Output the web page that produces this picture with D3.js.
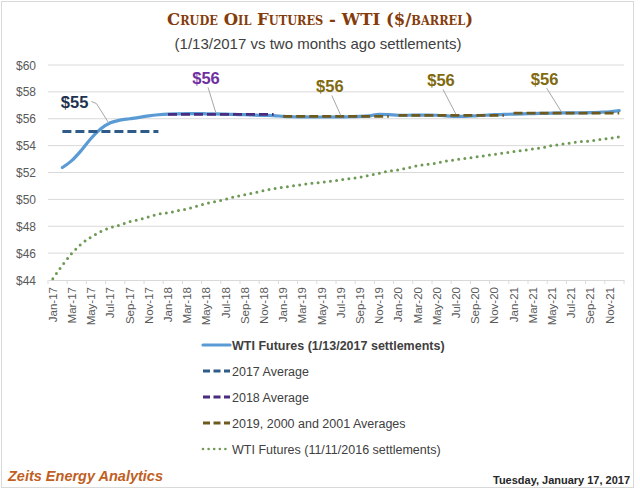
<!DOCTYPE html>
<html><head><meta charset="utf-8">
<script src="https://cdn.jsdelivr.net/npm/d3@7"></script>
<style>
html,body{margin:0;padding:0;background:#fff;}
svg{display:block;font-family:"Liberation Sans",Arial,sans-serif;}
</style></head>
<body><svg id="c" width="640" height="490"></svg>
<script>
// ---------- DATA ----------
const monthNames = ["Jan","Feb","Mar","Apr","May","Jun","Jul","Aug","Sep","Oct","Nov","Dec"];
const years = ["17","18","19","20","21"];
const months = [];
years.forEach(y => monthNames.forEach(m => months.push(m + "-" + y)));

// WTI futures, 1/13/2017 settlements (front month Feb-17)
const wtiJan = [null,52.37,52.9,53.67,54.55,55.25,55.7,55.9,56.0,56.1,56.22,56.3,
  56.35,56.37,56.38,56.38,56.37,56.36,56.34,56.32,56.3,56.27,56.25,56.23,
  56.18,56.15,56.14,56.13,56.13,56.13,56.14,56.15,56.17,56.22,56.32,56.3,
  56.26,56.26,56.27,56.27,56.26,56.22,56.17,56.18,56.22,56.26,56.3,56.32,
  56.35,56.37,56.38,56.4,56.42,56.43,56.43,56.44,56.45,56.48,56.52,56.6];

// WTI futures, 11/11/2016 settlements
const wtiNov = [44.1,45.1,46.0,46.7,47.2,47.6,47.9,48.1,48.35,48.5,48.7,48.9,
  49.0,49.15,49.3,49.5,49.7,49.85,50.0,50.2,50.35,50.5,50.65,50.8,
  50.9,51.0,51.1,51.2,51.27,51.35,51.45,51.55,51.65,51.8,51.95,52.1,
  52.2,52.35,52.5,52.6,52.7,52.85,52.95,53.05,53.15,53.25,53.35,53.45,
  53.55,53.65,53.75,53.85,54.0,54.1,54.2,54.3,54.35,54.45,54.55,54.65];

// Yearly averages of the 1/13/2017 curve
const avgYears  = ["17","18","19","20","21"];
const avgValues = [55.05,56.33,56.17,56.25,56.42];
const avgStart  = ["Feb-17","Jan-18","Jan-19","Jan-20","Jan-21"];
const avgEnd    = ["Dec-17","Dec-18","Dec-19","Dec-20","Dec-21"];
const avgLabels = ["$55","$56","$56","$56","$56"];
const avgLabelMonth = ["Jul-17","Jun-18","Jul-19","Jul-20","Jun-21"];

const yTicks = [44,46,48,50,52,54,56,58,60];
const legendLabels = ["WTI Futures (1/13/2017 settlements)","2017 Average","2018 Average",
  "2019, 2000 and 2001 Averages","WTI Futures (11/11/2016 settlements)"];

// ---------- LAYOUT ----------
const svg = d3.select("#c");
const L = 48, R = 624, T = 65, B = 280;
const x = d3.scaleBand().domain(months).range([L, R]);
const y = d3.scaleLinear().domain([44, 60]).range([B, T]);
const cx = m => x(m) + x.bandwidth() / 2;

const C = {
  jan: "#5b9bd5", a17: "#2e5b88", a18: "#4a2c7e", aOl: "#6f5a1e",
  nov: "#6f9a55", grid: "#d9d9d9", text: "#595959"
};
const avgColors = [C.a17, C.a18, C.aOl, C.aOl, C.aOl];
const labelColors = ["#1f3350", "#7030a0", "#7f6a10", "#7f6a10", "#7f6a10"];

// border
svg.append("rect").attr("x",1.5).attr("y",1.5).attr("width",632).attr("height",486)
  .attr("fill","none").attr("stroke","#d9d9d9");

// title
svg.append("text").attr("x",320).attr("y",25).attr("text-anchor","middle")
  .attr("fill","#843c0c").attr("font-weight","bold").attr("font-size",17.5)
  .style("font-variant","small-caps").style("font-family","'DejaVu Serif','Liberation Serif',serif")
  .attr("textLength",306).attr("lengthAdjust","spacingAndGlyphs")
  .text("Crude Oil Futures - WTI ($/barrel)");
svg.append("text").attr("x",318).attr("y",49).attr("text-anchor","middle")
  .attr("fill","#404040").attr("font-size",15)
  .text("(1/13/2017 vs two months ago settlements)");

// grid
svg.append("g").selectAll("line").data(yTicks.slice(1)).join("line")
  .attr("x1",L).attr("x2",R).attr("y1",d=>y(d)).attr("y2",d=>y(d))
  .attr("stroke",C.grid).attr("stroke-width",1);

// y axis labels
svg.append("g").selectAll("text").data(yTicks).join("text")
  .attr("x",36).attr("y",d=>y(d)+4.5).attr("text-anchor","end")
  .attr("fill",C.text).attr("font-size",12)
  .text(d=>"$"+d);

// x axis
const xAxis = d3.axisBottom(x)
  .tickValues(months.filter((m,i)=>i%2===0))
  .tickSize(0);
const gx = svg.append("g").attr("transform",`translate(0,${B})`).call(xAxis);
gx.select(".domain").attr("stroke",C.grid);
gx.selectAll(".tick text")
  .attr("transform","rotate(-90)")
  .attr("x",-7).attr("y",0).attr("dy","0.35em")
  .attr("text-anchor","end").attr("fill",C.text).attr("font-size",11.5)
  .style("font-family","'Liberation Sans',Arial,sans-serif");
// tick marks every 2 months at band boundaries
svg.append("g").selectAll("line").data(months.filter((m,i)=>i%2===0).concat(["end"])).join("line")
  .attr("x1",d=>d==="end"?R:x(d)).attr("x2",d=>d==="end"?R:x(d))
  .attr("y1",B).attr("y2",B+4).attr("stroke",C.grid);

// Nov settlements dotted
const lineNov = d3.line().x((d,i)=>cx(months[i])).y(d=>y(d)).curve(d3.curveMonotoneX);
svg.append("path").datum(wtiNov).attr("d",lineNov)
  .attr("fill","none").attr("stroke",C.nov).attr("stroke-width",3)
  .attr("stroke-linecap","round").attr("stroke-dasharray","0,6.2");

// Jan settlements solid
const lineJan = d3.line().defined(d=>d!==null).x((d,i)=>cx(months[i])).y(d=>y(d)).curve(d3.curveMonotoneX);
svg.append("path").datum(wtiJan).attr("d",lineJan)
  .attr("fill","none").attr("stroke",C.jan).attr("stroke-width",3.2)
  .attr("stroke-linecap","round");

// Average lines
avgValues.forEach((v,i)=>{
  svg.append("line")
    .attr("x1",cx(avgStart[i])).attr("x2",cx(avgEnd[i]))
    .attr("y1",y(v)).attr("y2",y(v))
    .attr("stroke",avgColors[i]).attr("stroke-width",2.8)
    .attr("stroke-dasharray","9,4");
});

// Average labels with leader lines
const labelOffsets = [[-22,-24],[-10,-30],[-11,-24],[-15,-29],[-17,-28]];
avgValues.forEach((v,i)=>{
  const ax = cx(avgLabelMonth[i]), ay = y(v);
  const [dx,dy] = labelOffsets[i];
  const g = svg.append("g");
  if (i===0) {
    g.append("polyline")
      .attr("points",`${ax-2},${ay-9} ${ax-14},${ay-28} ${ax-22+3},${ay-30}`)
      .attr("fill","none").attr("stroke","#a6a6a6").attr("stroke-width",1);
    g.append("text").attr("x",ax+dx).attr("y",ay+dy).attr("text-anchor","end")
      .attr("fill",labelColors[i]).attr("font-weight","bold").attr("font-size",16.5)
      .text(avgLabels[i]);
  } else {
    g.append("line").attr("x1",ax+dx+2).attr("y1",ay+dy+3).attr("x2",ax).attr("y2",ay-1)
      .attr("stroke","#a6a6a6").attr("stroke-width",1);
    g.append("text").attr("x",ax+dx).attr("y",ay+dy).attr("text-anchor","middle")
      .attr("fill",labelColors[i]).attr("font-weight","bold").attr("font-size",16.5)
      .text(avgLabels[i]);
  }
});

// Legend
const legStyles = [
  {c:C.jan, w:3.2, dash:null, cap:"round"},
  {c:C.a17, w:2.8, dash:"7,3.5", cap:"butt"},
  {c:C.a18, w:2.8, dash:"7,3.5", cap:"butt"},
  {c:C.aOl, w:2.8, dash:"7,3.5", cap:"butt"},
  {c:C.nov, w:2.6, dash:"0,5.6", cap:"round"}
];
const leg = svg.append("g");
legendLabels.forEach((t,i)=>{
  const ly = 345 + i*26;
  const s = legStyles[i];
  leg.append("line").attr("x1",203).attr("x2",230).attr("y1",ly).attr("y2",ly)
    .attr("stroke",s.c).attr("stroke-width",s.w).attr("stroke-linecap",s.cap)
    .attr("stroke-dasharray",s.dash);
  leg.append("text").attr("x",232).attr("y",ly+4.5)
    .attr("fill","#404040").attr("font-size",12.5)
    .attr("font-weight",i===0?"bold":"normal")
    .text(t);
});

// Footer
svg.append("text").attr("x",8).attr("y",481)
  .attr("fill","#c0601f").attr("font-weight","bold").attr("font-style","italic")
  .attr("font-size",14.5).text("Zeits Energy Analytics");
svg.append("text").attr("x",630).attr("y",484).attr("text-anchor","end")
  .attr("fill","#262626").attr("font-weight","bold").attr("font-size",11)
  .attr("textLength",137).attr("lengthAdjust","spacingAndGlyphs")
  .text("Tuesday, January 17, 2017");
</script>
</body></html>
